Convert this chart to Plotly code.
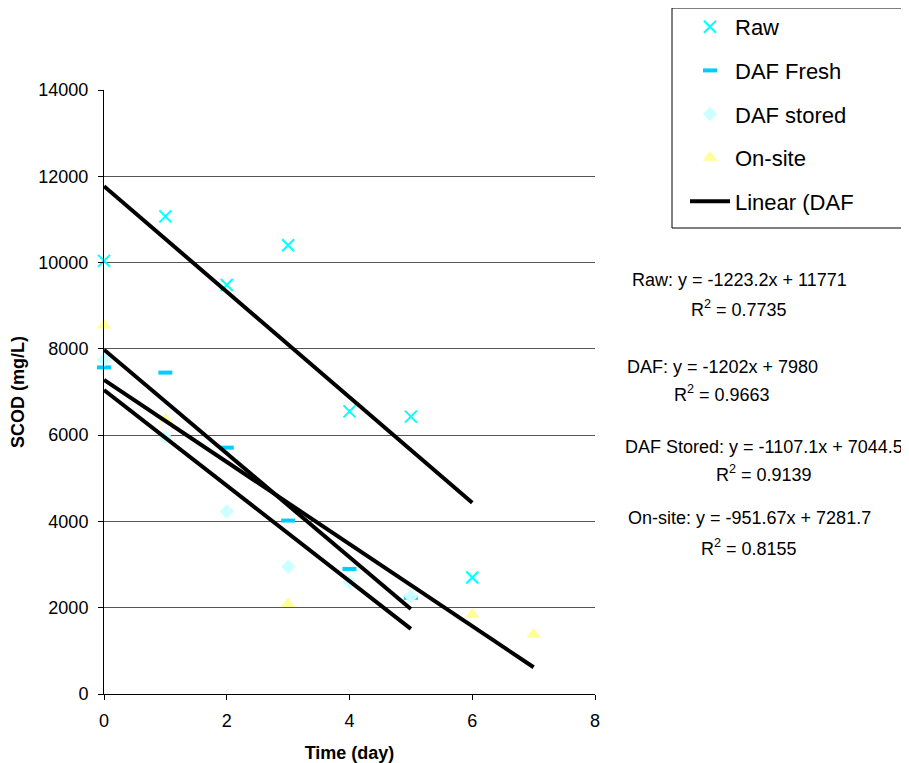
import plotly.graph_objects as go

# ---- data ----
raw_x = [0, 1, 2, 3, 4, 5, 6]
raw_y = [10040, 11070, 9480, 10400, 6550, 6430, 2700]

fresh_x = [0, 1, 2, 3, 4, 5]
fresh_y = [7570, 7450, 5710, 4020, 2900, 2230]

stored_x = [0, 1, 2, 3, 4, 5]
stored_y = [7750, 5950, 4230, 2950, 2590, 2260]

onsite_x = [0, 1, 3, 6, 7]
onsite_y = [8550, 6370, 2090, 1840, 1380]

# trend line coefficients (slope, intercept) and x-extent
fit_names = ["Raw", "DAF", "DAF Stored", "On-site"]
fit_slope = [-1223.2, -1202, -1107.1, -951.67]
fit_inter = [11771, 7980, 7044.5, 7281.7]
fit_xmax = [6, 5, 5, 7]
fit_eq = ["Raw: y = -1223.2x + 11771", "DAF: y = -1202x + 7980",
          "DAF Stored: y = -1107.1x + 7044.5", "On-site: y = -951.67x + 7281.7"]
fit_r2 = ["0.7735", "0.9663", "0.9139", "0.8155"]

y_ticks = [0, 2000, 4000, 6000, 8000, 10000, 12000, 14000]
y_tick_text = ["0", "2000", "4000", "6000", "8000", "10000", "12000", "14000"]
x_ticks = [0, 2, 4, 6, 8]
x_tick_text = ["0", "2", "4", "6", "8"]

FONT = "Liberation Sans, Arial, sans-serif"
BODY = 8  # default page body margin
W, H = 909 - BODY, 763 - BODY
# plot area in page pixels
L, R, T, B = 104, 595, 90, 694

def px(xp):
    return (xp - L) / (R - L)

def py(yp):
    return (B - yp) / (B - T)

fig = go.Figure()

fig.add_trace(go.Scatter(x=raw_x, y=raw_y, mode="markers", name="Raw", legendgroup="a",
                         cliponaxis=False,
                         marker=dict(symbol="x-thin", size=12, color="#00FFFF",
                                     line=dict(color="#00FFFF", width=2))))
fig.add_trace(go.Scatter(x=fresh_x, y=fresh_y, mode="markers", name="DAF Fresh", legendgroup="b",
                         cliponaxis=False,
                         marker=dict(symbol="line-ew", size=10, color="#00CCFF",
                                     line=dict(color="#00CCFF", width=4))))
fig.add_trace(go.Scatter(x=stored_x, y=stored_y, mode="markers", name="DAF stored", legendgroup="c",
                         cliponaxis=False,
                         marker=dict(symbol="diamond", size=11, color="#CCFFFF")))
fig.add_trace(go.Scatter(x=onsite_x, y=onsite_y, mode="markers", name="On-site", legendgroup="d",
                         cliponaxis=False,
                         marker=dict(symbol="triangle-up", size=13, color="#FFFF99")))

for i, (m, b, xm) in enumerate(zip(fit_slope, fit_inter, fit_xmax)):
    fig.add_trace(go.Scatter(x=[0, xm], y=[b, m * xm + b], mode="lines",
                             name="Linear (DAF", legendgroup="e",
                             showlegend=(i == 1), cliponaxis=False,
                             line=dict(color="black", width=4)))

# equation annotations (page pixel positions of centers)
eq_pos = [(739, 280, 308), (722, 367, 393), (764, 447, 473), (749, 518, 547)]
for (cx, y1, y2), eq, r2 in zip(eq_pos, fit_eq, fit_r2):
    fig.add_annotation(x=px(cx), y=py(y1), xref="paper", yref="paper", text=eq,
                       showarrow=False, xanchor="center", yanchor="middle",
                       font=dict(size=18, color="black", family=FONT))
    fig.add_annotation(x=px(cx), y=py(y2), xref="paper", yref="paper",
                       text="R<sup>2</sup> = " + r2,
                       showarrow=False, xanchor="center", yanchor="middle",
                       font=dict(size=18, color="black", family=FONT))

# legend border box
fig.add_shape(type="rect", xref="paper", yref="paper",
              x0=px(672), x1=px(905), y0=py(228), y1=py(8),
              line=dict(color="black", width=1), fillcolor="rgba(0,0,0,0)")

fig.update_layout(
    width=W, height=H,
    margin=dict(l=L - BODY, r=W - (R - BODY), t=T - BODY, b=H - (B - BODY), pad=0,
                autoexpand=False),
    paper_bgcolor="white", plot_bgcolor="white",
    font=dict(family=FONT, color="black", size=18),
    showlegend=True,
    legend=dict(x=px(685), y=py(6), xanchor="left", yanchor="top",
                font=dict(size=22, family=FONT, color="black"),
                bgcolor="rgba(0,0,0,0)", borderwidth=0,
                tracegroupgap=12, itemwidth=40),
    xaxis=dict(range=[0, 8], tickvals=x_ticks, ticktext=x_tick_text,
               showgrid=False, zeroline=False,
               showline=True, linecolor="black", linewidth=1,
               ticks="outside", ticklen=5, tickcolor="black",
               tickfont=dict(size=18), ticklabelstandoff=5,
               title=dict(text="<b>Time (day)</b>", font=dict(size=18), standoff=17)),
    yaxis=dict(range=[0, 14000], tickvals=y_ticks, ticktext=y_tick_text,
               showgrid=True, gridcolor="#555555",
               gridwidth=1, zeroline=False,
               showline=True, linecolor="black", linewidth=1,
               ticks="outside", ticklen=5, tickcolor="black",
               tickfont=dict(size=18), ticklabelstandoff=6,
               title=dict(text="<b>SCOD (mg/L)</b>", font=dict(size=18), standoff=20)),
)

fig.write_html("out.html")
